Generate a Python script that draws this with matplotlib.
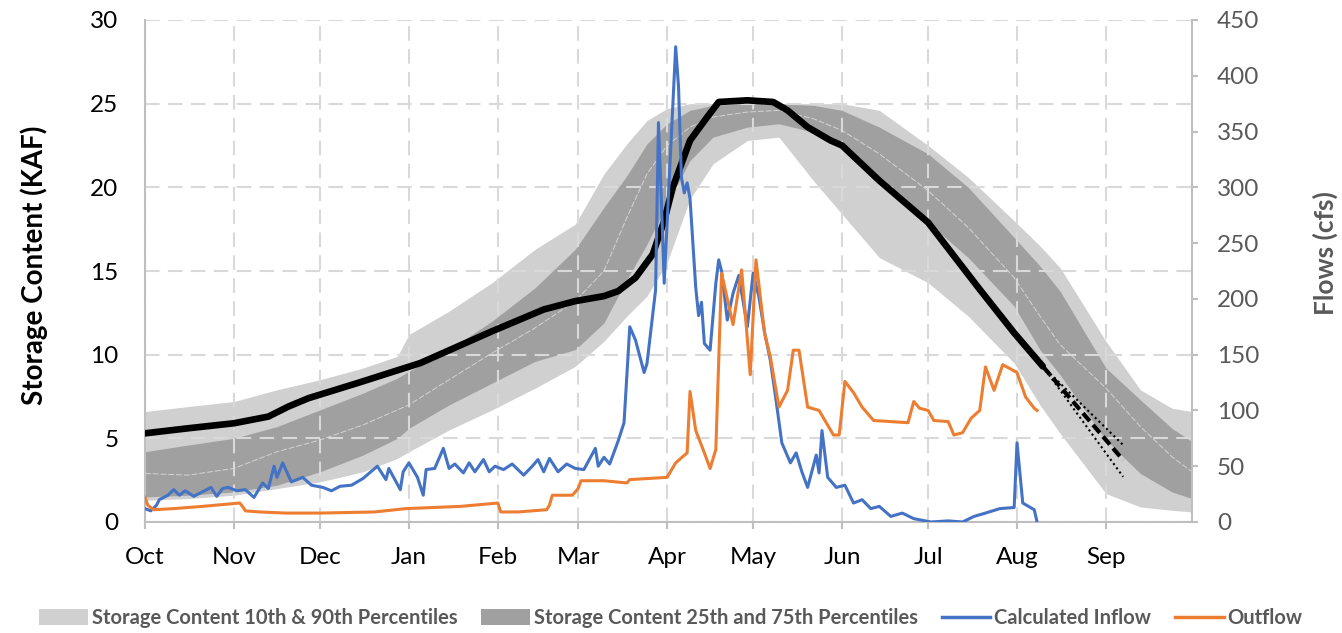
import matplotlib
matplotlib.use('Agg')
import matplotlib.pyplot as plt
from matplotlib.patches import Patch
from matplotlib.lines import Line2D

plt.rcParams['font.family'] = ['Lato', 'DejaVu Sans']

# water year, days counted from Oct 1
months = ['Oct', 'Nov', 'Dec', 'Jan', 'Feb', 'Mar', 'Apr', 'May', 'Jun', 'Jul', 'Aug', 'Sep']
month_start = [0, 31, 61, 92, 123, 151, 182, 212, 243, 273, 304, 335]

# historical storage percentiles (KAF)
band_days = [0, 15, 31, 46, 61, 76, 88, 92, 106, 121, 136, 150, 160, 168, 175, 182, 190, 198,
             210, 221, 233, 243, 256, 273, 287, 303, 312, 319, 335, 347, 358, 365]
p90 = [6.6, 6.9, 7.2, 7.9, 8.5, 9.2, 9.9, 11.2, 12.6, 14.3, 16.3, 17.8, 20.8, 22.6, 24.0, 24.7, 25.0, 25.0,
       25.0, 25.0, 25.0, 25.0, 24.6, 22.5, 20.6, 18.0, 16.5, 15.2, 10.8, 7.9, 6.8, 6.6]
p75 = [4.2, 4.6, 5.0, 5.7, 6.7, 7.7, 8.6, 9.0, 10.3, 12.0, 14.0, 16.3, 18.8, 20.7, 22.6, 23.8, 24.6, 24.9,
       25.0, 25.0, 24.9, 24.6, 23.6, 22.0, 20.0, 17.0, 15.3, 13.8, 9.2, 7.3, 5.6, 4.8]
p50 = [2.9, 2.8, 3.2, 4.2, 4.9, 5.8, 6.7, 7.0, 8.5, 10.1, 11.6, 13.2, 15.0, 18.2, 20.8, 22.5, 23.6, 24.2,
       24.5, 24.6, 24.1, 23.4, 22.0, 19.8, 17.6, 14.6, 12.3, 10.6, 8.0, 5.7, 3.9, 3.0]
p25 = [1.5, 1.6, 1.8, 2.2, 3.0, 4.0, 5.0, 5.6, 7.0, 8.3, 9.6, 10.3, 11.9, 14.5, 16.6, 19.0, 21.6, 23.0,
       23.6, 23.8, 23.3, 22.3, 20.4, 17.9, 15.8, 12.9, 10.3, 8.8, 4.9, 2.9, 1.8, 1.4]
p10 = [1.3, 1.4, 1.6, 2.0, 2.4, 3.0, 3.8, 4.2, 5.5, 6.7, 8.0, 9.3, 10.8, 12.3, 13.5, 15.5, 19.3, 21.4,
       22.8, 23.0, 20.4, 18.4, 15.8, 14.3, 12.3, 9.5, 7.0, 5.3, 1.7, 0.9, 0.7, 0.6]

# current year storage (KAF)
storage_days = [0, 15, 31, 43, 50, 57, 74, 96, 121, 139, 150, 160, 165, 171, 177, 181, 184, 187, 190,
                196, 200, 210, 219, 224, 231, 239, 243, 256, 273, 291, 303, 313]
storage = [5.3, 5.6, 5.9, 6.3, 6.9, 7.4, 8.3, 9.5, 11.4, 12.7, 13.2, 13.5, 13.8, 14.6, 16.0, 18.0, 20.0,
           21.4, 22.8, 24.2, 25.1, 25.2, 25.1, 24.6, 23.6, 22.8, 22.5, 20.4, 17.9, 13.9, 11.3, 9.3]

# projected storage
proj_days = [313, 341]
proj_mid = [9.3, 3.7]
proj_high = [9.3, 4.6]
proj_low = [9.3, 2.7]

# flows (cfs)
inflow_days = [0, 2, 4, 5, 8, 10, 12, 14, 17, 20, 23, 25, 27, 29, 32, 35, 38, 41, 43, 45, 46, 48, 51, 55,
               58, 62, 65, 68, 72, 76, 81, 84, 85, 89, 90, 92, 95, 97, 98, 101, 104, 106, 108, 111, 113,
               115, 118, 120, 122, 125, 128, 132, 135, 137, 139, 141, 144, 147, 150, 153, 157, 158, 160,
               162, 165, 167, 169, 171, 174, 175, 178, 179, 180, 181, 183, 185, 186, 187, 188, 189, 190,
               192, 193, 194, 195, 197, 199, 200, 201, 203, 205, 207, 210, 212, 214, 216, 218, 220, 222,
               225, 227, 229, 231, 234, 235, 236, 238, 241, 244, 247, 250, 253, 256, 260, 264, 268, 274,
               280, 285, 289, 293, 298, 303, 304, 306, 308, 310, 311]
inflow = [12, 10, 15, 20, 24, 29, 24, 28, 23, 27, 31, 23, 30, 31, 28, 29, 22, 35, 30, 50, 40, 53, 36, 40,
          33, 31, 28, 32, 33, 39, 50, 38, 48, 29, 45, 53, 40, 24, 47, 48, 66, 48, 52, 44, 53,
          45, 56, 45, 50, 47, 52, 42, 50, 56, 45, 57, 45, 52, 48, 47, 66, 50, 58,
          52, 73, 89, 175, 163, 134, 142, 208, 358, 290, 214, 320, 426, 390, 309, 295, 304, 290,
          210, 185, 197, 160, 154, 214, 235, 225, 181, 205, 221, 175, 223, 202, 170, 145, 109, 71,
          53, 62, 45, 31, 60, 44, 82, 40, 31, 33, 17, 20, 12, 14, 5, 8, 3, 0,
          1, 0, 5, 8, 12, 13, 71, 17, 14, 11, 0]

out_days = [0, 1, 3, 10, 20, 33, 34, 35, 40, 49, 61, 80, 91, 110, 123, 124, 130, 140, 141, 142, 149, 151,
            152, 160, 168, 169, 182, 185, 189, 190, 192, 195, 197, 199, 201, 205, 208, 211, 213, 216, 218,
            221, 224, 226, 228, 231, 235, 240, 242, 244, 247, 250, 254, 266, 268, 270, 273, 275, 280, 282,
            285, 288, 291, 293, 296, 299, 304, 307, 310, 311]
outflow = [22, 15, 11, 12, 14, 17, 14, 10, 9, 8, 8, 9, 12, 14, 17, 9, 9, 11, 15, 24, 24, 30,
           37, 37, 35, 38, 40, 53, 62, 117, 82, 62, 48, 65, 223, 177, 226, 132, 235, 169, 148,
           103, 118, 154, 154, 103, 100, 78, 78, 126, 116, 103, 91, 89, 108, 102, 100, 91, 90, 78,
           80, 93, 100, 139, 118, 141, 134, 112, 102, 100]

light = '#D0D0D0'
dark = '#A0A0A0'
blue = '#4472C4'
orange = '#ED7D31'
axis_gray = '#BFBFBF'
text_gray = '#595959'

W, H = 1342, 633
fig = plt.figure(figsize=(W / 100, H / 100), dpi=100)
ax = fig.add_axes([145 / W, 1 - 522 / H, (1192 - 145) / W, (522 - 20) / H])

ax.fill_between(band_days, p10, p90, color=light, lw=0, zorder=1)
ax.fill_between(band_days, p25, p75, color=dark, lw=0, zorder=1.1)
ax.plot(band_days, p50, color='#D4D4D4', lw=0.7, ls=(0, (6, 2)), zorder=1.2)

ax.plot(storage_days, storage, color='black', lw=4.8, solid_capstyle='round',
        solid_joinstyle='round', zorder=3)
ax.plot(proj_days, proj_mid, color='black', lw=3, ls=(0, (2.5, 1.2)), zorder=3)
ax.plot(proj_days, proj_high, color='black', lw=1.5, ls=(0, (1, 1.5)), zorder=3)
ax.plot(proj_days, proj_low, color='black', lw=1.5, ls=(0, (1, 1.5)), zorder=3)

ax.set_xlim(0, 365)
ax.set_ylim(0, 30)
ax.set_xticks(month_start)
ax.set_xticklabels(months)
ax.set_yticks(range(0, 31, 5))
ax.set_axisbelow('line')
ax.grid(True, color='#D9D9D9', lw=1.5, ls=(0, (7, 4)))
ax.tick_params(axis='x', length=5, color=axis_gray, width=1.5, pad=13, labelsize=17.5, labelcolor='black')
ax.tick_params(axis='y', length=0, pad=19, labelsize=17.5, labelcolor='black')
for side in ['top', 'right']:
    ax.spines[side].set_visible(False)
for side in ['left', 'bottom']:
    ax.spines[side].set_color(axis_gray)
    ax.spines[side].set_linewidth(1.5)

ax2 = ax.twinx()
ax2.plot(inflow_days, inflow, color=blue, lw=2.2, zorder=4)
ax2.plot(out_days, outflow, color=orange, lw=2.2, zorder=4)
ax2.set_ylim(0, 450)
ax2.set_yticks(range(0, 451, 50))
ax2.tick_params(axis='y', length=4, width=1.5, color=axis_gray, pad=14, labelsize=17.5, labelcolor=text_gray)
for side in ['top', 'left', 'bottom']:
    ax2.spines[side].set_visible(False)
ax2.spines['right'].set_color(axis_gray)
ax2.spines['right'].set_linewidth(1.5)

fig.text(34 / W, 1 - 265 / H, 'Storage Content (KAF)', rotation=90, ha='center', va='center',
         fontsize=20, fontweight='bold', color='black')
fig.text(1325 / W, 1 - 253 / H, 'Flows (cfs)', rotation=90, ha='center', va='center',
         fontsize=19, fontweight='bold', color=text_gray)

handles = [Patch(facecolor=light, edgecolor='none'),
           Patch(facecolor=dark, edgecolor='none'),
           Line2D([], [], color=blue, lw=2.5),
           Line2D([], [], color=orange, lw=2.5)]
labels = ['Storage Content 10th & 90th Percentiles', 'Storage Content 25th and 75th Percentiles',
          'Calculated Inflow', 'Outflow']
fig.legend(handles, labels, loc='center', bbox_to_anchor=(0.5, 1 - 618 / H), ncol=4, frameon=False,
           prop={'weight': 'bold', 'size': 14.5}, labelcolor=text_gray, handlelength=2.4, handleheight=0.8,
           handletextpad=0.2, columnspacing=1.2)

fig.savefig('out.png', dpi=100)
